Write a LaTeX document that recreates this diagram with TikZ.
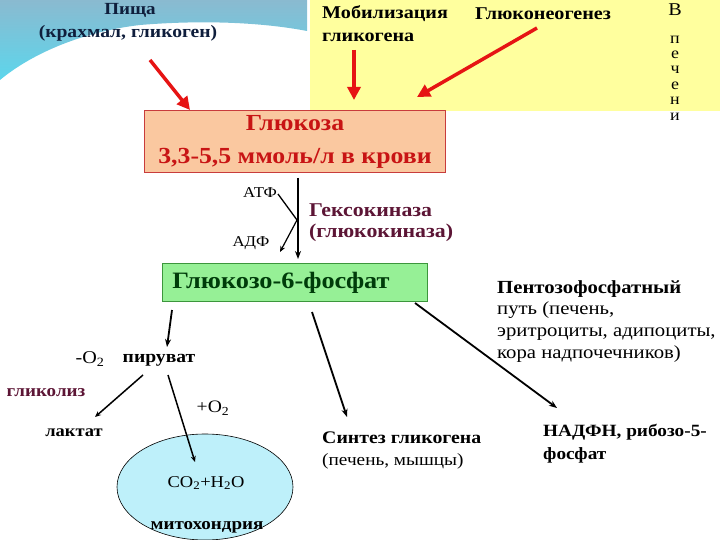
\documentclass[tikz,border=0pt]{standalone}
\usepackage{fontspec}
\setmainfont{Liberation Serif}[FakeStretch=1.12]
\usetikzlibrary{arrows.meta,shapes.geometric}
\definecolor{skyA}{HTML}{8ABAD0}
\definecolor{skyB}{HTML}{5CD6EC}
\definecolor{liverbg}{HTML}{FFFF9E}
\definecolor{glucfill}{HTML}{FAC8A0}
\definecolor{glucdraw}{HTML}{C83C3C}
\definecolor{gluctext}{HTML}{C81414}
\definecolor{gfill}{HTML}{96F096}
\definecolor{gdraw}{HTML}{3C963C}
\definecolor{gtext}{HTML}{003C0A}
\definecolor{maroon}{HTML}{5C1535}
\definecolor{navy}{HTML}{0F1E3C}
\definecolor{mitofill}{HTML}{BEF0FA}
\definecolor{redarr}{HTML}{E61414}
\tikzset{
  txt/.style={inner sep=0pt, font=\fontsize{17.5}{20}\selectfont},
  btxt/.style={inner sep=0pt, font=\bfseries\fontsize{17.5}{20}\selectfont},
  redarrow/.style={draw=redarr, line width=3.5pt, -{Triangle[length=13pt,width=13pt]}},
  blkarrow/.style={draw=black, line width=1.8pt, -{Stealth[length=8pt,width=6pt]}},
  thinarrow/.style={draw=black, line width=1.2pt, -{Stealth[length=6pt,width=5pt]}},
}
\begin{document}
\begin{tikzpicture}[x=1pt,y=-1pt]
\useasboundingbox (0,0) rectangle (720,540);
% backgrounds
\shade[top color=skyA, bottom color=skyB] (0,0) -- (307,0) -- (307,31) .. controls (260,22) and (200,20) .. (140,25) .. controls (80,32) and (30,55) .. (0,80) -- cycle;
\node[fill=liverbg, minimum width=410pt, minimum height=111pt, anchor=north west, inner sep=0pt] (liver) at (310,0) {};

% food
\node[btxt, text=navy, font=\bfseries\fontsize{17}{20}\selectfont] (food1) at (130,10) {Пища};
\node[btxt, text=navy, font=\bfseries\fontsize{17.5}{20}\selectfont] (food2) at (128,33) {(крахмал, гликоген)};

% liver texts
\node[btxt, anchor=west, font=\bfseries\fontsize{18}{20}\selectfont] (mob1) at (322,14) {Мобилизация};
\node[btxt, anchor=west, font=\bfseries\fontsize{18}{20}\selectfont] (mob2) at (322,37) {гликогена};
\node[btxt, anchor=west, font=\bfseries\fontsize{18}{20}\selectfont] (gng) at (475,14) {Глюконеогенез};
\node[txt, font=\fontsize{18}{18}\selectfont] (vv) at (675,10) {В};
\node[inner sep=0pt, align=center, font=\fontsize{16}{15.4}\selectfont] (pech) at (675,78) {п\\е\\ч\\е\\н\\и};

% glucose
\node[draw=glucdraw, fill=glucfill, line width=0.8pt, minimum width=301pt, minimum height=62pt, inner sep=0pt,
      align=center, text=gluctext, font=\bfseries\fontsize{23}{33}\selectfont] (gluc) at (295,141.5)
      {Глюкоза\\3,3-5,5 ммоль/л в крови};

% red arrows
\coordinate (r1s) at (150,60);
\coordinate (r1e) at (190,110);
\coordinate (r2s) at (354,50);
\coordinate (r2e) at (354,100);
\coordinate (r3s) at (537,28);
\coordinate (r3e) at (417,97);
\draw[redarrow] (r1s) -- (r1e);
\draw[redarrow] (r2s) -- (r2e);
\draw[redarrow] (r3s) -- (r3e);

% hexokinase step
\node[txt, font=\fontsize{15}{18}\selectfont] (atp) at (260,193) {АТФ};
\node[txt, font=\fontsize{15}{18}\selectfont] (adp) at (251,243) {АДФ};
\node[btxt, text=maroon, anchor=west, font=\bfseries\fontsize{19.5}{20}\selectfont] (hex1) at (309,210) {Гексокиназа};
\node[btxt, text=maroon, anchor=west, font=\bfseries\fontsize{19.5}{20}\selectfont] (hex2) at (309,233) {(глюкокиназа)};

\node[draw=gdraw, fill=gfill, line width=0.8pt, anchor=north west, minimum height=38pt,
      text width=245pt, inner xsep=10pt, inner ysep=0pt, align=left, text=gtext,
      font=\bfseries\fontsize{23.5}{24}\selectfont] (g6p) at (162,263) {Глюкозо-6-фосфат};

\coordinate (hs) at (298,178);
\coordinate (he) at (298,259);
\coordinate (hm) at (297,220);
\coordinate (atpe) at (278,194);
\coordinate (adpe) at (280,252);
\draw[blkarrow, line width=2pt] (hs) -- (he);
\draw[line width=1.3pt] (atpe) -- (hm);
\draw[thinarrow] (hm) -- (adpe);

% pathways
\node[btxt] (pyr) at (159,360) {пируват};
\node[txt, font=\fontsize{18}{20}\selectfont] (mo2) at (90,359) {-O\textsubscript{2}};
\node[btxt, text=maroon, font=\bfseries\fontsize{17}{20}\selectfont] (glyc) at (46,393) {гликолиз};
\node[btxt, font=\bfseries\fontsize{16.5}{20}\selectfont] (lact) at (74,433) {лактат};
\node[txt, font=\fontsize{17.5}{20}\selectfont] (po2) at (213,408) {+O\textsubscript{2}};

\node[ellipse, draw=black, line width=0.6pt, fill=mitofill, minimum width=176pt, minimum height=106pt, inner sep=0pt] (mito) at (205,487) {};
\node[inner sep=0pt, font=\fontsize{16.5}{18}\selectfont] (co2) at (206,483) {CO\textsubscript{2}+H\textsubscript{2}O};
\node[btxt, font=\bfseries\fontsize{17}{20}\selectfont] (mitol) at (207,527) {митохондрия};

\node[btxt, anchor=west, font=\bfseries\fontsize{17.7}{20}\selectfont] (syn1) at (322,438) {Синтез гликогена};
\node[txt, anchor=west, font=\fontsize{17.2}{20}\selectfont] (syn2) at (322,461) {(печень, мышцы)};

\node[btxt, anchor=west, font=\bfseries\fontsize{17.2}{20}\selectfont] (nad1) at (543,432) {НАДФН, рибозо-5-};
\node[btxt, anchor=west, font=\bfseries\fontsize{17.2}{20}\selectfont] (nad2) at (543,455) {фосфат};

\node[anchor=north west, inner sep=0pt, align=left, font=\fontsize{18.5}{21.8}\selectfont] (pent) at (497,280)
  {\textbf{Пентозофосфатный}\\путь (печень,\\эритроциты, адипоциты,\\кора надпочечников)};

\coordinate (p1s) at (172,310);
\coordinate (p1e) at (167,347);
\coordinate (p2s) at (312,312);
\coordinate (p2e) at (347,417);
\coordinate (p3s) at (415,303);
\coordinate (p3e) at (557,408);
\coordinate (l1s) at (143,375);
\coordinate (l1e) at (95,417);
\coordinate (c1s) at (168,375);
\coordinate (c1e) at (195,462);
\draw[blkarrow] (p1s) -- (p1e);
\draw[blkarrow] (p2s) -- (p2e);
\draw[blkarrow] (p3s) -- (p3e);
\draw[thinarrow, line width=1.5pt] (l1s) -- (l1e);
\draw[thinarrow, line width=1.5pt] (c1s) -- (c1e);
\end{tikzpicture}
\end{document}
